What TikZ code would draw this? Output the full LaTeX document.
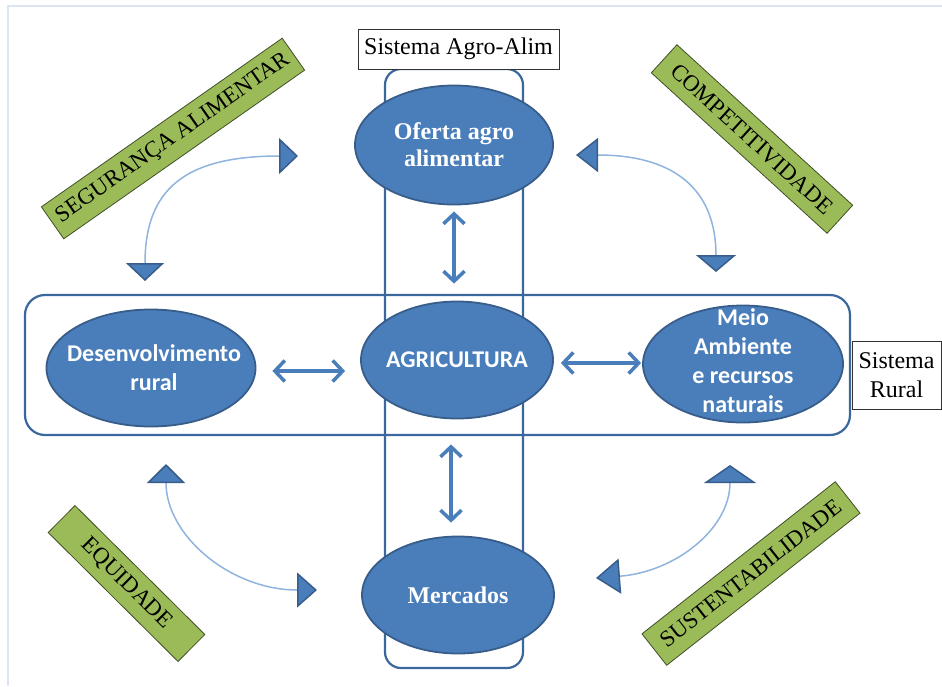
\documentclass[tikz,border=0pt]{standalone}
\usepackage{fontspec}
\setmainfont{Liberation Serif}
\newfontfamily\calfont{Carlito}
\usetikzlibrary{shapes.geometric,arrows.meta}
\definecolor{ellfill}{HTML}{4A7EBB}
\definecolor{elldraw}{HTML}{385D8A}
\definecolor{rectdraw}{HTML}{3A679C}
\definecolor{arrblue}{HTML}{4A7EBB}
\definecolor{curveblue}{HTML}{8FB4DE}
\definecolor{greenfill}{HTML}{9BBB59}
\definecolor{greendraw}{HTML}{3F4F25}
\definecolor{framecol}{HTML}{DCE4F0}
\tikzset{
  tri/.tip={Triangle[width=38pt,length=19pt,fill=ellfill,color=elldraw]},
}
\begin{document}
\begin{tikzpicture}[x=1pt,y=-1pt,
  ell/.style={ellipse, draw=elldraw, fill=ellfill, line width=1.8pt, inner sep=0pt},
  elltext/.style={text=white, align=center, inner sep=0pt},
  serifbold/.style={font=\fontsize{24}{27}\selectfont\bfseries},
  sansbold/.style={font=\fontsize{24}{29}\selectfont\calfont\bfseries},
  sysrect/.style={draw=rectdraw, line width=2.2pt, inner sep=0pt},
  lbl/.style={draw=black!80, line width=0.8pt, fill=white, inner sep=0pt, align=center, font=\fontsize{24}{29}\selectfont},
  gbox/.style={draw=greendraw, line width=0.8pt, fill=greenfill, inner sep=0pt, font=\fontsize{23}{27}\selectfont},
  dbl/.style={draw=arrblue, line width=3.5pt, {Straight Barb[length=10pt,width=21pt]}-{Straight Barb[length=10pt,width=21pt]}},
  curve/.style={draw=curveblue, line width=1.5pt},
]
\useasboundingbox (0,0) rectangle (942,686);
% frame lines
\coordinate (fA) at (8,686);
\coordinate (fB) at (8,6);
\coordinate (fC) at (942,6);
\draw[framecol, line width=1.2pt] (fA) -- (fB) -- (fC);

% system containers
\node[sysrect, rounded corners=16pt, minimum width=138pt, minimum height=599pt] (agrosys) at (454,368.5) {};
\node[sysrect, rounded corners=20pt, minimum width=825pt, minimum height=140pt] (ruralsys) at (437.5,365) {};

% labels
\node[lbl, minimum width=201pt, minimum height=40pt] (lblagro) at (458.5,49) {Sistema Agro-Alim};
\node[lbl, minimum width=89pt, minimum height=68pt] (lblrural) at (896.5,375) {Sistema\\Rural};

% ellipses
\node[ell, minimum width=198pt, minimum height=119pt] (ofe) at (454,145) {};
\node[ell, minimum width=192pt, minimum height=117pt] (agr) at (457,360) {};
\node[ell, minimum width=192pt, minimum height=117pt] (mer) at (458,595) {};
\node[ell, minimum width=209pt, minimum height=117pt] (des) at (151,368) {};
\node[ell, minimum width=200pt, minimum height=117pt] (mei) at (743,364) {};
\node[elltext, serifbold] (ofetxt) at (ofe) {Oferta agro\\alimentar};
\node[elltext, sansbold] (agrtxt) at (agr) {AGRICULTURA};
\node[elltext, serifbold] (mertxt) at (mer) {Mercados};
\node[elltext, sansbold] (destxt) at ([xshift=3pt]des) {Desenvolvimento\\rural};
\node[elltext, sansbold] (meitxt) at ([yshift=3pt]mei) {Meio\\Ambiente\\e recursos\\naturais};

% double arrows
\draw[dbl, shorten <=6pt, shorten >=17pt] (ofe.south) -- (ofe.south |- agr.north);
\draw[dbl, shorten <=25pt, shorten >=13pt] ([xshift=-6pt]agr.south) -- ([xshift=-6pt]agr.south |- mer.north);
\draw[dbl, shorten <=16pt, shorten >=15pt] ([yshift=-3pt]des.east) -- ([yshift=-3pt]des.east -| agr.west);
\draw[dbl, shorten <=7pt, shorten >=1pt] ([yshift=-3pt]agr.east) -- ([yshift=-3pt]agr.east -| mei.west);

% green boxes
\node[gbox, minimum width=294pt, minimum height=39pt, rotate=35] (seg) at (173,138.5) {SEGURANÇA ALIMENTAR};
\node[gbox, minimum width=238pt, minimum height=38pt, rotate=-42.4] (comp) at (752,139) {COMPETITIVIDADE};
\node[gbox, minimum width=183pt, minimum height=38pt, rotate=-44.8] (equi) at (126.5,583.5) {EQUIDADE};
\node[gbox, minimum width=246pt, minimum height=40pt, rotate=38.2] (sust) at (751,573.5) {SUSTENTABILIDADE};

% curved connectors
\coordinate (tl1) at (298,156);
\coordinate (tl2) at (145,281);
\coordinate (tr1) at (576,155);
\coordinate (tr2) at (716,272);
\coordinate (bl1) at (166,464);
\coordinate (bl2) at (317,590);
\coordinate (br1) at (730,465);
\coordinate (br2) at (596,578);
\draw[curve, {tri[width=36pt]}-{tri[length=18pt]}] (tl1) .. controls (185,156) and (145,189) .. (tl2);
\draw[curve, {tri[width=34pt,length=22pt]}-{tri[width=40pt,length=17pt]}] (tr1) .. controls (675,155) and (716,190) .. (tr2);
\draw[curve, {tri}-{tri[width=35pt,length=20pt]}] (bl1) .. controls (166,536) and (231,590) .. (bl2);
\draw[curve, {tri[width=52pt,length=18pt]}-{tri[width=35pt,length=24pt]}] (br1) .. controls (730,529) and (675,572) .. (br2);
\end{tikzpicture}
\end{document}
